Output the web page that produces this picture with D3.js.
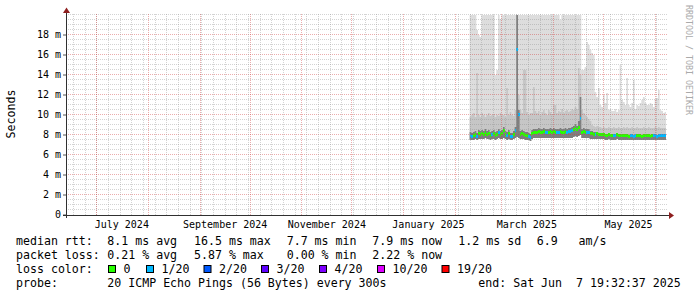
<!DOCTYPE html>
<html>
<head>
<meta charset="utf-8">
<script src="https://cdn.jsdelivr.net/npm/d3@7"></script>
<style>
  body { margin: 0; background: #fff; }
  svg { display: block; background: #fff; }
  text { font-family: "DejaVu Sans Mono", monospace; fill: #000; }
</style>
</head>
<body>
<svg id="chart" width="697" height="297"></svg>
<script>
// one sample per day, starting at firstDay
var firstDay = "2025-02-10";
var endTime = "2025-06-07T19:32:37Z";

var median = [
  7.9, 7.8, 7.9, 8.0, 7.8, 8.1, 8.0, 8.1, 8.0, 8.2,
  8.0, 8.1, 7.9, 8.0, 8.1, 7.9, 8.0, 8.2, 8.0, 8.1,
  8.4, 8.0, 7.9, 8.1, 7.8, 7.8, 8.0, 8.4, 16.5, 10.0,
  8.0, 8.1, 8.0, 7.9, 7.9, 7.8, 7.7, 8.1, 8.2, 8.2,
  8.2, 8.3, 8.2, 8.2, 8.3, 8.2, 8.2, 8.2, 8.3, 8.2,
  8.3, 8.2, 8.2, 8.2, 8.3, 8.2, 8.2, 8.3, 8.2, 8.3,
  8.3, 8.4, 8.5, 8.7, 8.5, 8.7, 9.6, 8.2, 8.3, 8.2,
  8.2, 8.2, 8.1, 8.1, 8.0, 8.0, 8.1, 8.0, 8.0, 8.0,
  8.0, 7.9, 7.9, 8.0, 7.9, 7.9, 7.9, 7.9, 8.0, 7.9,
  7.9, 7.9, 7.9, 7.9, 7.9, 7.8, 7.9, 7.9, 7.8, 7.9,
  7.9, 7.9, 7.9, 7.8, 7.9, 7.9, 7.9, 7.9, 7.8, 7.9,
  7.9, 7.9, 7.8, 7.9, 7.9, 7.9, 7.9, 7.9
];

// lost pings out of 20
var loss = [
  1, 1, 0, 0, 1, 0, 0, 0, 0, 0,
  0, 0, 0, 1, 0, 0, 0, 1, 0, 0,
  0, 0, 1, 0, 1, 1, 0, 1, 1, 1,
  0, 0, 0, 0, 0, 1, 1, 0, 0, 0,
  0, 0, 0, 0, 0, 1, 1, 0, 0, 0,
  0, 0, 1, 1, 0, 0, 0, 0, 1, 1,
  1, 1, 0, 0, 0, 0, 1, 0, 0, 0,
  1, 1, 0, 0, 0, 1, 0, 0, 0, 0,
  0, 0, 0, 0, 0, 0, 1, 1, 0, 0,
  0, 0, 0, 0, 0, 0, 1, 1, 1, 1,
  0, 0, 0, 0, 0, 0, 0, 0, 0, 0,
  1, 1, 1, 1, 1, 1, 1, 1
];

var smokeMin = [
  7.5, 7.5, 7.5, 7.6, 7.5, 7.6, 7.6, 7.6, 7.6, 7.7,
  7.6, 7.6, 7.5, 7.6, 7.6, 7.5, 7.6, 7.7, 7.6, 7.6,
  7.7, 7.6, 7.5, 7.6, 7.5, 7.5, 7.6, 7.7, 7.8, 7.7,
  7.6, 7.6, 7.6, 7.5, 7.5, 7.5, 7.4, 7.6, 7.7, 7.7,
  7.7, 7.7, 7.7, 7.7, 7.7, 7.7, 7.7, 7.7, 7.7, 7.7,
  7.7, 7.7, 7.7, 7.7, 7.7, 7.7, 7.7, 7.7, 7.7, 7.7,
  7.7, 7.7, 7.8, 7.9, 7.8, 7.9, 8.0, 7.7, 7.7, 7.7,
  7.7, 7.7, 7.6, 7.6, 7.6, 7.6, 7.6, 7.6, 7.6, 7.6,
  7.6, 7.5, 7.5, 7.6, 7.5, 7.5, 7.5, 7.5, 7.6, 7.5,
  7.5, 7.5, 7.5, 7.5, 7.5, 7.5, 7.5, 7.5, 7.5, 7.5,
  7.5, 7.5, 7.5, 7.5, 7.5, 7.5, 7.5, 7.5, 7.5, 7.5,
  7.5, 7.5, 7.5, 7.5, 7.5, 7.5, 7.5, 7.5
];

var smokeDark = [
  8.3, 8.2, 8.3, 8.4, 8.2, 8.5, 8.4, 8.5, 8.4, 8.6,
  8.4, 8.5, 8.3, 8.4, 8.5, 8.3, 8.4, 8.6, 8.4, 8.5,
  8.8, 8.4, 8.3, 8.5, 8.2, 8.2, 8.4, 8.8, 25, 10.5,
  8.4, 8.5, 8.4, 8.3, 8.3, 8.2, 8.1, 8.5, 8.6, 8.6,
  8.6, 8.7, 8.6, 8.6, 8.7, 8.6, 8.6, 8.6, 8.7, 8.6,
  8.7, 8.6, 8.6, 8.6, 8.7, 8.6, 8.6, 8.7, 8.6, 8.7,
  8.7, 8.8, 8.9, 9.1, 8.9, 9.4, 11.8, 8.6, 8.7, 8.6,
  8.6, 8.6, 8.4, 8.4, 8.3, 8.3, 8.3, 8.2, 8.2, 8.2,
  8.2, 8.1, 8.1, 8.2, 8.1, 8.1, 8.1, 8.1, 8.2, 8.1,
  8.1, 8.1, 8.1, 8.1, 8.1, 8.0, 8.1, 8.1, 8.0, 8.1,
  8.1, 8.1, 8.1, 8.0, 8.1, 8.1, 8.1, 8.1, 8.0, 8.1,
  8.1, 8.1, 8.0, 8.1, 8.1, 8.1, 8.1, 8.1
];

var smokeMid = [
  9.8, 10.0, 10.2, 9.8, 14.2, 10.0, 9.8, 10.2, 10.0, 9.8,
  10.0, 10.2, 9.9, 10.0, 10.1, 9.8, 10.0, 9.9, 10.2, 10.0,
  10.0, 9.8, 12.7, 10.0, 10.3, 10.0, 9.9, 10.5, 25, 12.0,
  10.5, 10.2, 14.5, 14.5, 10.3, 10.0, 10.2, 10.2, 12.8, 10.4,
  10.2, 10.4, 10.0, 10.3, 10.5, 10.2, 10.0, 10.5, 10.3, 10.1,
  11.0, 11.0, 10.2, 10.4, 10.3, 10.6, 10.2, 10.4, 10.5, 10.3,
  10.4, 10.6, 10.5, 10.8, 10.6, 14.7, 14.0, 10.5, 10.2, 10.0,
  9.8, 9.6, 9.4, 9.0, 8.9, 8.8, 8.9, 8.8, 8.8, 8.7,
  8.8, 8.7, 8.7, 8.8, 8.7, 8.7, 8.8, 8.7, 8.7, 8.8,
  8.7, 8.7, 8.8, 8.7, 8.8, 8.7, 8.7, 8.8, 8.7, 8.7,
  8.8, 8.7, 8.7, 8.7, 8.8, 8.7, 8.7, 8.8, 8.7, 8.7,
  8.7, 8.8, 8.7, 8.8, 8.7, 8.7, 8.7, 8.7
];

// 25 = above the top of the graph
var smokeMax = [
  25, 25, 25, 25, 18.5, 18.0, 17.8, 25, 25, 25,
  25, 25, 25, 25, 25, 14.0, 14.5, 25, 19.6, 25,
  25, 25, 25, 25, 25, 25, 25, 25, 25, 25,
  25, 25, 25, 25, 25, 25, 25, 25, 25, 25,
  25, 25, 25, 25, 25, 25, 25, 25, 25, 25,
  25, 25, 25, 25, 19.5, 25, 25, 25, 25, 25,
  25, 25, 25, 25, 25, 25, 25, 14.5, 14.5, 14.8,
  17.3, 17.0, 16.5, 16.2, 16.0, 12.3, 11.8, 12.7, 11.0, 10.8,
  12.0, 11.2, 12.2, 10.5, 10.6, 10.4, 10.4, 10.6, 10.3, 10.5,
  15.0, 11.5, 11.3, 11.0, 13.7, 11.0, 10.8, 11.2, 13.5, 10.6,
  11.0, 10.9, 11.2, 11.5, 11.8, 11.2, 11.0, 11.0, 11.2, 11.1,
  10.8, 11.6, 11.7, 12.5, 10.5, 10.4, 10.2, 10.3
];

var yTicks = [0, 2, 4, 6, 8, 10, 12, 14, 16, 18];
var yTickLabels = ["0", "2 m", "4 m", "6 m", "8 m", "10 m", "12 m", "14 m", "16 m", "18 m"];
var monthLabelDates = ["2024-07-16", "2024-09-16", "2024-11-16", "2025-01-16", "2025-03-16", "2025-05-16"];
var monthLabels = ["July 2024", "September 2024", "November 2024", "January 2025", "March 2025", "May 2025"];

var lossSteps = [0, 1, 2, 3, 4, 10, 19];
var lossLabels = ["0", "1/20", "2/20", "3/20", "4/20", "10/20", "19/20"];
var lossColors = ["#26ff00", "#00b8ff", "#0059ff", "#5e00ff", "#7e00ff", "#dd00ff", "#ff0000"];

var rttLine = ["median rtt:", "8.1 ms avg", "16.5 ms max", "7.7 ms min", "7.9 ms now", "1.2 ms sd", "6.9   am/s"];
var lossLine = ["packet loss:", "0.21 % avg", "5.87 % max", "0.00 % min", "2.22 % now"];
var probeLine = ["probe:", "20 ICMP Echo Pings (56 Bytes) every 300s", "end: Sat Jun  7 19:32:37 2025"];

var dimensions = {
  width: 697,
  height: 297,
  margin: { top: 15, right: 31, bottom: 82, left: 66 },
};
var legend = {
  cols: [16, 107.3, 194, 286.7, 372.3, 458.3, 536.7],
  rows: [244.7, 259, 273.3, 287.3],
  boxX: [108.5, 146.5, 204, 261.5, 319.5, 377.5, 442],
  endX: 478.3,
  fontSize: "11.6px",
};

// svg text collapses runs of spaces, keep them
var keepSpaces = (s) => s.replace(/ /g, "\u00a0");

var svg = d3.select("#chart");
var x0 = dimensions.margin.left;
var x1 = dimensions.width - dimensions.margin.right;
var y0 = dimensions.height - dimensions.margin.bottom;
var y1 = dimensions.margin.top;

var endDate = d3.isoParse(endTime);
var startDate = d3.utcDay.offset(endDate, -360);
var dayZero = d3.utcParse("%Y-%m-%d")(firstDay);

var xScale = d3.scaleUtc().domain([startDate, endDate]).range([x0, x1]);
var yScale = d3.scaleLinear().domain([0, 20]).range([y0, y1]);
var lossColor = d3.scaleOrdinal().domain(lossSteps).range(lossColors);

var rows = median.map(function (m, i) {
  return {
    t: d3.utcDay.offset(dayZero, i),
    median: m,
    loss: loss[i],
    min: smokeMin[i],
    dark: smokeDark[i],
    mid: smokeMid[i],
    max: smokeMax[i],
  };
});
var stepRows = rows.concat([Object.assign({}, rows[rows.length - 1], { t: endDate })]);

svg.append("clipPath").attr("id", "plotclip")
  .append("rect")
  .attr("x", x0).attr("y", y1)
  .attr("width", x1 - x0).attr("height", y0 - y1);

// smoke
var smoke = svg.append("g").attr("clip-path", "url(#plotclip)");
var bands = [
  { hi: (d) => d.max, color: "#dddddd" },
  { hi: (d) => d.mid, color: "#c6c6c6" },
  { hi: (d) => d.dark, color: "#7e7e7e" },
];
bands.forEach(function (b) {
  var area = d3.area()
    .curve(d3.curveStepAfter)
    .x((d) => xScale(d.t))
    .y0((d) => yScale(d.min))
    .y1((d) => yScale(b.hi(d)));
  smoke.append("path").datum(stepRows).attr("fill", b.color).attr("d", area);
});

// median, coloured by loss
smoke.selectAll("rect.median")
  .data(rows)
  .enter()
  .append("rect")
  .attr("class", "median")
  .attr("x", (d) => Math.round(xScale(d.t)))
  .attr("width", (d, i) => Math.round(xScale(stepRows[i + 1].t)) - Math.round(xScale(d.t)))
  .attr("y", (d) => Math.round(yScale(d.median)) - 2)
  .attr("height", 3)
  .attr("fill", (d) => lossColor(d.loss))
  .attr("shape-rendering", "crispEdges");

// grid (drawn on top like rrdtool)
var grid = svg.append("g").attr("fill", "none").attr("stroke-dasharray", "1,1");
var minorGray = "rgba(140,140,140,0.38)";
var majorRed = "rgba(210,60,60,0.42)";

var yMinor = yScale.ticks(40).filter((v) => v > 0 && yTicks.indexOf(v) < 0);
var yMajor = yTicks.filter((v) => v > 0);
grid.selectAll("line.ymin").data(yMinor).enter().append("line")
  .attr("x1", x0).attr("x2", x1 + 2)
  .attr("y1", (d) => yScale(d) - 0.5).attr("y2", (d) => yScale(d) - 0.5)
  .attr("stroke", minorGray);
grid.selectAll("line.ymaj").data(yMajor).enter().append("line")
  .attr("x1", x0).attr("x2", x1 + 2)
  .attr("y1", (d) => yScale(d) - 0.5).attr("y2", (d) => yScale(d) - 0.5)
  .attr("stroke", majorRed);

var weeks = d3.utcMonday.range(startDate, endDate);
var months = d3.utcMonth.range(startDate, endDate);
grid.selectAll("line.xmin").data(weeks).enter().append("line")
  .attr("x1", (d) => Math.round(xScale(d)) + 0.5).attr("x2", (d) => Math.round(xScale(d)) + 0.5)
  .attr("y1", y1 - 1).attr("y2", y0)
  .attr("stroke", minorGray);
grid.selectAll("line.xmaj").data(months).enter().append("line")
  .attr("x1", (d) => Math.round(xScale(d)) + 0.5).attr("x2", (d) => Math.round(xScale(d)) + 0.5)
  .attr("y1", y1 - 1).attr("y2", y0)
  .attr("stroke", majorRed);

// axes
var yAxisgen = d3.axisLeft(yScale)
  .tickValues(yTicks)
  .tickFormat((d, i) => yTickLabels[i])
  .tickSize(3)
  .tickPadding(2);
var yAxis = svg.append("g")
  .attr("transform", `translate(${x0},-0.5)`)
  .call(yAxisgen);
yAxis.select(".domain").remove();
yAxis.selectAll("line").attr("stroke", "#555");
yAxis.selectAll("text")
  .style("font-family", "DejaVu Sans Mono, monospace")
  .style("font-size", "10px")
  .attr("fill", "#000");

var xAxisgen = d3.axisBottom(xScale)
  .tickValues(monthLabelDates.map((s) => d3.utcParse("%Y-%m-%d")(s)))
  .tickFormat((d, i) => monthLabels[i])
  .tickSize(0)
  .tickPadding(5.5);
var xAxis = svg.append("g")
  .attr("transform", `translate(0,${y0})`)
  .call(xAxisgen);
xAxis.select(".domain").remove();
xAxis.selectAll("text")
  .style("font-family", "DejaVu Sans Mono, monospace")
  .style("font-size", "10px")
  .attr("fill", "#000");

var axisColor = "#303030";
svg.append("line")
  .attr("x1", x0 + 0.5).attr("x2", x0 + 0.5)
  .attr("y1", y0 + 3).attr("y2", 11)
  .attr("stroke", axisColor);
svg.append("line")
  .attr("x1", x0 - 3).attr("x2", x1 + 4)
  .attr("y1", y0 + 0.5).attr("y2", y0 + 0.5)
  .attr("stroke", axisColor);

// arrows
var arrowColor = "#8e1f1f";
svg.append("path")
  .attr("d", `M${x0 + 0.5},7.5 L${x0 - 3},13 L${x0 + 4},13 Z`)
  .attr("fill", arrowColor);
svg.append("path")
  .attr("d", `M${x1 + 8},${y0 + 0.5} L${x1 + 3},${y0 - 3} L${x1 + 3},${y0 + 4} Z`)
  .attr("fill", arrowColor);

// axis title and watermark
svg.append("text")
  .attr("transform", "translate(14.5,114) rotate(-90)")
  .attr("text-anchor", "middle")
  .style("font-size", "11.6px")
  .text("Seconds");
svg.append("text")
  .attr("transform", "translate(685.5,5) rotate(90)")
  .style("font-size", "8.3px")
  .style("fill", "#aaaaaa")
  .text("RRDTOOL / TOBI OETIKER");

// legend
var leg = svg.append("g").style("font-size", legend.fontSize);

function legendRow(items, y) {
  items.forEach(function (s, i) {
    leg.append("text").attr("x", legend.cols[i]).attr("y", y).text(keepSpaces(s));
  });
}
legendRow(rttLine, legend.rows[0]);
legendRow(lossLine, legend.rows[1]);

leg.append("text").attr("x", legend.cols[0]).attr("y", legend.rows[2]).text("loss color:");
lossLabels.forEach(function (lbl, i) {
  var bx = legend.boxX[i];
  leg.append("rect")
    .attr("x", bx).attr("y", legend.rows[2] - 7.8)
    .attr("width", 7).attr("height", 7)
    .attr("fill", lossColors[i])
    .attr("stroke", "#000")
    .attr("stroke-width", 1);
  leg.append("text").attr("x", bx + 15).attr("y", legend.rows[2]).text(lbl);
});

leg.append("text").attr("x", legend.cols[0]).attr("y", legend.rows[3]).text(probeLine[0]);
leg.append("text").attr("x", legend.cols[1]).attr("y", legend.rows[3]).text(keepSpaces(probeLine[1]));
leg.append("text").attr("x", legend.endX).attr("y", legend.rows[3]).text(keepSpaces(probeLine[2]));
</script>
</body>
</html>
